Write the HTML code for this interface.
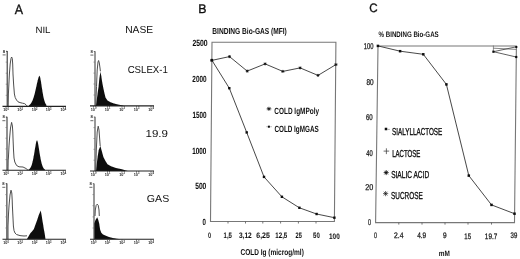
<!DOCTYPE html>
<html><head><meta charset="utf-8"><style>
html,body{margin:0;padding:0;background:#fff;width:520px;height:259px;overflow:hidden}
svg{display:block}
</style></head><body>
<svg width="520" height="259" viewBox="0 0 520 259">
<defs><filter id="soft" x="0" y="0" width="100%" height="100%"><feGaussianBlur stdDeviation="0.35"/></filter></defs>
<rect width="520" height="259" fill="#fff"/>
<g filter="url(#soft)">
<polygon points="28.8,106.4 28.8,105.4 29.1,105.2 29.3,105.1 29.6,104.9 29.9,104.6 30.1,104.4 30.4,104.1 30.7,103.8 30.9,103.4 31.2,103.0 31.5,102.6 31.7,102.1 32.0,101.6 32.3,101.1 32.5,100.5 32.8,99.8 33.1,99.1 33.3,98.3 33.6,97.5 33.9,96.6 34.1,95.7 34.4,94.7 34.7,93.7 35.0,92.6 35.2,91.5 35.5,90.3 35.8,89.1 36.0,87.9 36.3,86.7 36.6,85.5 36.8,84.2 37.1,83.0 37.4,81.9 37.6,80.7 37.9,79.7 38.2,78.7 38.4,77.8 38.7,77.1 39.0,76.4 39.2,76.0 39.5,75.8 39.7,76.0 39.8,76.4 40.0,76.9 40.2,77.6 40.4,78.4 40.5,79.3 40.7,80.2 40.9,81.2 41.1,82.3 41.2,83.4 41.4,84.5 41.6,85.7 41.7,86.8 41.9,88.0 42.1,89.1 42.3,90.2 42.4,91.3 42.6,92.3 42.8,93.4 43.0,94.3 43.1,95.3 43.3,96.2 43.5,97.0 43.6,97.8 43.8,98.5 44.0,99.2 44.2,99.9 44.3,100.5 44.5,101.1 44.7,101.6 44.8,102.1 45.0,102.5 45.2,102.9 45.4,103.3 45.5,103.6 45.7,104.0 45.9,104.2 46.1,104.5 46.2,104.7 46.4,104.9 46.4,106.4" fill="#111"/>
<polyline points="8.2,106.4 8.4,94.0 8.9,84.0 9.4,74.0 10.2,64.0 11.0,58.5 11.6,57.0 12.3,58.5 12.7,64.0 13.0,74.0 13.6,84.0 14.4,94.0 15.2,97.5 16.5,100.0 18.0,101.8 20.0,102.6 22.5,103.2 24.5,103.6 26.0,104.8 27.5,106.3" fill="none" stroke="#444" stroke-width="0.95" stroke-linejoin="round"/>
<line x1="7.2" y1="51.0" x2="7.2" y2="106.4" stroke="#222" stroke-width="1.0"/>
<line x1="6.0" y1="51.3" x2="7.2" y2="51.3" stroke="#222" stroke-width="0.8"/>
<line x1="2.5" y1="106.4" x2="66" y2="106.4" stroke="#222" stroke-width="1.1"/>
<line x1="5.7" y1="62.1" x2="7.2" y2="62.1" stroke="#777" stroke-width="0.7"/>
<line x1="5.7" y1="73.2" x2="7.2" y2="73.2" stroke="#777" stroke-width="0.7"/>
<line x1="5.7" y1="84.2" x2="7.2" y2="84.2" stroke="#777" stroke-width="0.7"/>
<line x1="5.7" y1="95.3" x2="7.2" y2="95.3" stroke="#777" stroke-width="0.7"/>
<line x1="6" y1="106.4" x2="6" y2="108.2" stroke="#444" stroke-width="0.7"/>
<line x1="20.2" y1="106.4" x2="20.2" y2="108.2" stroke="#444" stroke-width="0.7"/>
<line x1="34.7" y1="106.4" x2="34.7" y2="108.2" stroke="#444" stroke-width="0.7"/>
<line x1="48.7" y1="106.4" x2="48.7" y2="108.2" stroke="#444" stroke-width="0.7"/>
<line x1="63.3" y1="106.4" x2="63.3" y2="108.2" stroke="#444" stroke-width="0.7"/>
<text x="6" y="111.0" font-size="3.8" font-weight="bold" text-anchor="middle" fill="#222" font-family='"Liberation Sans", Arial, sans-serif'>10<tspan font-size="2.6" dy="-1.2">0</tspan></text>
<text x="20.2" y="111.0" font-size="3.8" font-weight="bold" text-anchor="middle" fill="#222" font-family='"Liberation Sans", Arial, sans-serif'>10<tspan font-size="2.6" dy="-1.2">1</tspan></text>
<text x="34.7" y="111.0" font-size="3.8" font-weight="bold" text-anchor="middle" fill="#222" font-family='"Liberation Sans", Arial, sans-serif'>10<tspan font-size="2.6" dy="-1.2">2</tspan></text>
<text x="48.7" y="111.0" font-size="3.8" font-weight="bold" text-anchor="middle" fill="#222" font-family='"Liberation Sans", Arial, sans-serif'>10<tspan font-size="2.6" dy="-1.2">3</tspan></text>
<text x="63.3" y="111.0" font-size="3.8" font-weight="bold" text-anchor="middle" fill="#222" font-family='"Liberation Sans", Arial, sans-serif'>10<tspan font-size="2.6" dy="-1.2">4</tspan></text>
<text x="3.8000000000000003" y="52.6" font-size="4.2" font-weight="bold" text-anchor="middle" fill="#222" font-family='"Liberation Sans", Arial, sans-serif'>8</text>
<line x1="2.6000000000000005" y1="54.9" x2="5.6" y2="54.9" stroke="#444" stroke-width="0.8"/>
<polygon points="95.9,105.9 96.5,101.0 97.1,97.2 97.8,92.0 98.6,86.4 99.4,78.0 100.4,71.7 101.3,76.0 102.0,81.0 103.0,86.4 104.4,92.9 105.5,97.5 107.5,100.6 110.5,102.3 114.0,103.5 117.0,104.3 120.3,105.0 122.5,105.5 124.0,105.9" fill="#111"/>
<polyline points="95.7,105.9 96.0,98.0 96.5,86.4 97.2,70.0 98.0,62.0 98.6,60.5 99.3,63.0 100.0,68.0 100.4,71.3" fill="none" stroke="#444" stroke-width="0.95" stroke-linejoin="round"/>
<line x1="95.0" y1="51.2" x2="95.0" y2="105.9" stroke="#555" stroke-width="1.2"/>
<line x1="93.8" y1="51.5" x2="95.0" y2="51.5" stroke="#555" stroke-width="0.8"/>
<line x1="90" y1="105.9" x2="154" y2="105.9" stroke="#222" stroke-width="1.1"/>
<line x1="93.5" y1="62.1" x2="95.0" y2="62.1" stroke="#777" stroke-width="0.7"/>
<line x1="93.5" y1="73.1" x2="95.0" y2="73.1" stroke="#777" stroke-width="0.7"/>
<line x1="93.5" y1="84.0" x2="95.0" y2="84.0" stroke="#777" stroke-width="0.7"/>
<line x1="93.5" y1="95.0" x2="95.0" y2="95.0" stroke="#777" stroke-width="0.7"/>
<line x1="93.5" y1="105.9" x2="93.5" y2="107.7" stroke="#444" stroke-width="0.7"/>
<line x1="107.5" y1="105.9" x2="107.5" y2="107.7" stroke="#444" stroke-width="0.7"/>
<line x1="122" y1="105.9" x2="122" y2="107.7" stroke="#444" stroke-width="0.7"/>
<line x1="136.5" y1="105.9" x2="136.5" y2="107.7" stroke="#444" stroke-width="0.7"/>
<line x1="151" y1="105.9" x2="151" y2="107.7" stroke="#444" stroke-width="0.7"/>
<text x="93.5" y="110.5" font-size="3.8" font-weight="bold" text-anchor="middle" fill="#222" font-family='"Liberation Sans", Arial, sans-serif'>10<tspan font-size="2.6" dy="-1.2">0</tspan></text>
<text x="107.5" y="110.5" font-size="3.8" font-weight="bold" text-anchor="middle" fill="#222" font-family='"Liberation Sans", Arial, sans-serif'>10<tspan font-size="2.6" dy="-1.2">1</tspan></text>
<text x="122" y="110.5" font-size="3.8" font-weight="bold" text-anchor="middle" fill="#222" font-family='"Liberation Sans", Arial, sans-serif'>10<tspan font-size="2.6" dy="-1.2">2</tspan></text>
<text x="136.5" y="110.5" font-size="3.8" font-weight="bold" text-anchor="middle" fill="#222" font-family='"Liberation Sans", Arial, sans-serif'>10<tspan font-size="2.6" dy="-1.2">3</tspan></text>
<text x="151" y="110.5" font-size="3.8" font-weight="bold" text-anchor="middle" fill="#222" font-family='"Liberation Sans", Arial, sans-serif'>10<tspan font-size="2.6" dy="-1.2">4</tspan></text>
<text x="91.6" y="52.800000000000004" font-size="4.2" font-weight="bold" text-anchor="middle" fill="#222" font-family='"Liberation Sans", Arial, sans-serif'>8</text>
<line x1="90.4" y1="55.1" x2="93.4" y2="55.1" stroke="#444" stroke-width="0.8"/>
<polygon points="28.3,170.3 28.3,169.7 28.5,169.6 28.7,169.5 29.0,169.4 29.2,169.2 29.4,169.1 29.6,168.9 29.8,168.6 30.0,168.3 30.3,168.0 30.5,167.7 30.7,167.3 30.9,166.9 31.1,166.4 31.3,165.9 31.6,165.3 31.8,164.7 32.0,164.0 32.2,163.2 32.4,162.4 32.6,161.5 32.9,160.6 33.1,159.5 33.3,158.5 33.5,157.3 33.7,156.1 34.0,154.9 34.2,153.6 34.4,152.3 34.6,151.0 34.8,149.7 35.0,148.4 35.3,147.1 35.5,145.8 35.7,144.6 35.9,143.5 36.1,142.5 36.3,141.6 36.6,140.9 36.8,140.4 37.0,140.2 37.2,140.4 37.4,140.9 37.6,141.5 37.8,142.3 38.0,143.3 38.2,144.3 38.4,145.4 38.6,146.6 38.8,147.9 39.0,149.1 39.2,150.4 39.4,151.7 39.6,152.9 39.8,154.2 40.0,155.4 40.2,156.5 40.4,157.6 40.6,158.7 40.8,159.7 41.0,160.7 41.2,161.6 41.4,162.4 41.6,163.2 41.8,164.0 42.0,164.6 42.2,165.2 42.4,165.8 42.6,166.3 42.8,166.8 43.0,167.2 43.2,167.6 43.4,167.9 43.6,168.2 43.8,168.5 44.0,168.7 44.2,168.9 44.4,169.1 44.6,169.3 44.8,169.4 45.0,169.6 45.0,170.3" fill="#111"/>
<polyline points="8.0,170.3 8.2,160.0 8.4,158.0 9.0,146.0 9.6,138.0 10.5,128.0 11.6,122.4 12.4,126.0 12.8,132.0 13.0,138.0 13.5,150.0 14.0,158.0 14.8,162.0 16.6,165.5 19.0,166.8 23.0,167.0 26.0,168.5 28.0,170.2" fill="none" stroke="#444" stroke-width="0.95" stroke-linejoin="round"/>
<line x1="7.0" y1="116.8" x2="7.0" y2="170.3" stroke="#222" stroke-width="1.0"/>
<line x1="5.8" y1="117.1" x2="7.0" y2="117.1" stroke="#222" stroke-width="0.8"/>
<line x1="2.5" y1="170.3" x2="66" y2="170.3" stroke="#222" stroke-width="1.1"/>
<line x1="5.5" y1="127.5" x2="7.0" y2="127.5" stroke="#777" stroke-width="0.7"/>
<line x1="5.5" y1="138.2" x2="7.0" y2="138.2" stroke="#777" stroke-width="0.7"/>
<line x1="5.5" y1="148.9" x2="7.0" y2="148.9" stroke="#777" stroke-width="0.7"/>
<line x1="5.5" y1="159.6" x2="7.0" y2="159.6" stroke="#777" stroke-width="0.7"/>
<line x1="6" y1="170.3" x2="6" y2="172.10000000000002" stroke="#444" stroke-width="0.7"/>
<line x1="20.2" y1="170.3" x2="20.2" y2="172.10000000000002" stroke="#444" stroke-width="0.7"/>
<line x1="34.7" y1="170.3" x2="34.7" y2="172.10000000000002" stroke="#444" stroke-width="0.7"/>
<line x1="48.7" y1="170.3" x2="48.7" y2="172.10000000000002" stroke="#444" stroke-width="0.7"/>
<line x1="63.3" y1="170.3" x2="63.3" y2="172.10000000000002" stroke="#444" stroke-width="0.7"/>
<text x="6" y="174.9" font-size="3.8" font-weight="bold" text-anchor="middle" fill="#222" font-family='"Liberation Sans", Arial, sans-serif'>10<tspan font-size="2.6" dy="-1.2">0</tspan></text>
<text x="20.2" y="174.9" font-size="3.8" font-weight="bold" text-anchor="middle" fill="#222" font-family='"Liberation Sans", Arial, sans-serif'>10<tspan font-size="2.6" dy="-1.2">1</tspan></text>
<text x="34.7" y="174.9" font-size="3.8" font-weight="bold" text-anchor="middle" fill="#222" font-family='"Liberation Sans", Arial, sans-serif'>10<tspan font-size="2.6" dy="-1.2">2</tspan></text>
<text x="48.7" y="174.9" font-size="3.8" font-weight="bold" text-anchor="middle" fill="#222" font-family='"Liberation Sans", Arial, sans-serif'>10<tspan font-size="2.6" dy="-1.2">3</tspan></text>
<text x="63.3" y="174.9" font-size="3.8" font-weight="bold" text-anchor="middle" fill="#222" font-family='"Liberation Sans", Arial, sans-serif'>10<tspan font-size="2.6" dy="-1.2">4</tspan></text>
<text x="3.6" y="118.39999999999999" font-size="4.2" font-weight="bold" text-anchor="middle" fill="#222" font-family='"Liberation Sans", Arial, sans-serif'>8</text>
<line x1="2.4000000000000004" y1="120.7" x2="5.4" y2="120.7" stroke="#444" stroke-width="0.8"/>
<polygon points="96.0,171.0 96.6,165.0 97.6,156.9 98.7,150.0 100.4,146.1 101.5,150.0 103.4,156.9 105.6,161.2 107.5,164.3 111.0,166.3 116.0,168.0 122.0,169.3 125.0,170.2 127.8,171.0" fill="#111"/>
<polyline points="95.7,171.0 96.3,150.0 97.2,132.0 98.2,126.2 99.0,130.0 99.6,138.0 100.2,146.1" fill="none" stroke="#444" stroke-width="0.95" stroke-linejoin="round"/>
<line x1="95.0" y1="116.8" x2="95.0" y2="171.0" stroke="#555" stroke-width="1.2"/>
<line x1="93.8" y1="117.1" x2="95.0" y2="117.1" stroke="#555" stroke-width="0.8"/>
<line x1="90" y1="171.0" x2="154" y2="171.0" stroke="#222" stroke-width="1.1"/>
<line x1="93.5" y1="127.6" x2="95.0" y2="127.6" stroke="#777" stroke-width="0.7"/>
<line x1="93.5" y1="138.5" x2="95.0" y2="138.5" stroke="#777" stroke-width="0.7"/>
<line x1="93.5" y1="149.3" x2="95.0" y2="149.3" stroke="#777" stroke-width="0.7"/>
<line x1="93.5" y1="160.2" x2="95.0" y2="160.2" stroke="#777" stroke-width="0.7"/>
<line x1="93.5" y1="171.0" x2="93.5" y2="172.8" stroke="#444" stroke-width="0.7"/>
<line x1="107.5" y1="171.0" x2="107.5" y2="172.8" stroke="#444" stroke-width="0.7"/>
<line x1="122" y1="171.0" x2="122" y2="172.8" stroke="#444" stroke-width="0.7"/>
<line x1="136.5" y1="171.0" x2="136.5" y2="172.8" stroke="#444" stroke-width="0.7"/>
<line x1="151" y1="171.0" x2="151" y2="172.8" stroke="#444" stroke-width="0.7"/>
<text x="93.5" y="175.6" font-size="3.8" font-weight="bold" text-anchor="middle" fill="#222" font-family='"Liberation Sans", Arial, sans-serif'>10<tspan font-size="2.6" dy="-1.2">0</tspan></text>
<text x="107.5" y="175.6" font-size="3.8" font-weight="bold" text-anchor="middle" fill="#222" font-family='"Liberation Sans", Arial, sans-serif'>10<tspan font-size="2.6" dy="-1.2">1</tspan></text>
<text x="122" y="175.6" font-size="3.8" font-weight="bold" text-anchor="middle" fill="#222" font-family='"Liberation Sans", Arial, sans-serif'>10<tspan font-size="2.6" dy="-1.2">2</tspan></text>
<text x="136.5" y="175.6" font-size="3.8" font-weight="bold" text-anchor="middle" fill="#222" font-family='"Liberation Sans", Arial, sans-serif'>10<tspan font-size="2.6" dy="-1.2">3</tspan></text>
<text x="151" y="175.6" font-size="3.8" font-weight="bold" text-anchor="middle" fill="#222" font-family='"Liberation Sans", Arial, sans-serif'>10<tspan font-size="2.6" dy="-1.2">4</tspan></text>
<text x="91.6" y="118.39999999999999" font-size="4.2" font-weight="bold" text-anchor="middle" fill="#222" font-family='"Liberation Sans", Arial, sans-serif'>8</text>
<line x1="90.4" y1="120.7" x2="93.4" y2="120.7" stroke="#444" stroke-width="0.8"/>
<polygon points="26.8,239.2 28.0,237.2 30.5,233.1 32.0,231.5 33.9,228.9 35.5,224.5 37.0,220.4 38.8,215.0 40.7,210.5 41.6,215.0 42.4,220.4 43.2,225.0 43.8,228.9 44.6,233.1 45.1,236.5 45.5,239.2" fill="#111"/>
<polyline points="8.0,239.2 8.0,226.0 8.5,214.0 9.0,206.0 10.0,195.0 11.0,190.2 11.8,193.0 12.2,200.0 12.4,206.0 12.9,216.0 13.4,226.0 14.0,230.5 15.0,233.0 16.5,234.5 20.0,235.6 24.0,236.0 27.0,235.8" fill="none" stroke="#444" stroke-width="0.95" stroke-linejoin="round"/>
<line x1="6.9" y1="183.4" x2="6.9" y2="239.2" stroke="#222" stroke-width="1.0"/>
<line x1="5.7" y1="183.70000000000002" x2="6.9" y2="183.70000000000002" stroke="#222" stroke-width="0.8"/>
<line x1="2.5" y1="239.2" x2="66" y2="239.2" stroke="#222" stroke-width="1.1"/>
<line x1="5.4" y1="194.6" x2="6.9" y2="194.6" stroke="#777" stroke-width="0.7"/>
<line x1="5.4" y1="205.7" x2="6.9" y2="205.7" stroke="#777" stroke-width="0.7"/>
<line x1="5.4" y1="216.9" x2="6.9" y2="216.9" stroke="#777" stroke-width="0.7"/>
<line x1="5.4" y1="228.0" x2="6.9" y2="228.0" stroke="#777" stroke-width="0.7"/>
<line x1="6" y1="239.2" x2="6" y2="241.0" stroke="#444" stroke-width="0.7"/>
<line x1="20.2" y1="239.2" x2="20.2" y2="241.0" stroke="#444" stroke-width="0.7"/>
<line x1="34.7" y1="239.2" x2="34.7" y2="241.0" stroke="#444" stroke-width="0.7"/>
<line x1="48.7" y1="239.2" x2="48.7" y2="241.0" stroke="#444" stroke-width="0.7"/>
<line x1="63.3" y1="239.2" x2="63.3" y2="241.0" stroke="#444" stroke-width="0.7"/>
<text x="6" y="243.79999999999998" font-size="3.8" font-weight="bold" text-anchor="middle" fill="#222" font-family='"Liberation Sans", Arial, sans-serif'>10<tspan font-size="2.6" dy="-1.2">0</tspan></text>
<text x="20.2" y="243.79999999999998" font-size="3.8" font-weight="bold" text-anchor="middle" fill="#222" font-family='"Liberation Sans", Arial, sans-serif'>10<tspan font-size="2.6" dy="-1.2">1</tspan></text>
<text x="34.7" y="243.79999999999998" font-size="3.8" font-weight="bold" text-anchor="middle" fill="#222" font-family='"Liberation Sans", Arial, sans-serif'>10<tspan font-size="2.6" dy="-1.2">2</tspan></text>
<text x="48.7" y="243.79999999999998" font-size="3.8" font-weight="bold" text-anchor="middle" fill="#222" font-family='"Liberation Sans", Arial, sans-serif'>10<tspan font-size="2.6" dy="-1.2">3</tspan></text>
<text x="63.3" y="243.79999999999998" font-size="3.8" font-weight="bold" text-anchor="middle" fill="#222" font-family='"Liberation Sans", Arial, sans-serif'>10<tspan font-size="2.6" dy="-1.2">4</tspan></text>
<text x="3.5000000000000004" y="185.0" font-size="4.2" font-weight="bold" text-anchor="middle" fill="#222" font-family='"Liberation Sans", Arial, sans-serif'>8</text>
<line x1="2.3000000000000007" y1="187.3" x2="5.300000000000001" y2="187.3" stroke="#444" stroke-width="0.8"/>
<polygon points="94.1,239.2 94.1,223.6 95.5,220.0 97.2,217.2 98.3,220.0 99.2,223.6 100.1,229.4 101.3,232.8 103.0,234.6 105.9,235.7 109.0,237.0 112.8,238.0 117.0,238.7 121.0,239.2" fill="#111"/>
<polyline points="95.0,216.0 95.3,210.0 96.2,205.2 97.2,204.2 98.2,205.2 99.0,210.0 99.3,216.0" fill="none" stroke="#444" stroke-width="0.95" stroke-linejoin="round"/>
<line x1="94.0" y1="183.4" x2="94.0" y2="239.2" stroke="#555" stroke-width="1.2"/>
<line x1="92.8" y1="183.70000000000002" x2="94.0" y2="183.70000000000002" stroke="#555" stroke-width="0.8"/>
<line x1="90" y1="239.2" x2="154" y2="239.2" stroke="#222" stroke-width="1.1"/>
<line x1="92.5" y1="194.6" x2="94.0" y2="194.6" stroke="#777" stroke-width="0.7"/>
<line x1="92.5" y1="205.7" x2="94.0" y2="205.7" stroke="#777" stroke-width="0.7"/>
<line x1="92.5" y1="216.9" x2="94.0" y2="216.9" stroke="#777" stroke-width="0.7"/>
<line x1="92.5" y1="228.0" x2="94.0" y2="228.0" stroke="#777" stroke-width="0.7"/>
<line x1="93.5" y1="239.2" x2="93.5" y2="241.0" stroke="#444" stroke-width="0.7"/>
<line x1="107.5" y1="239.2" x2="107.5" y2="241.0" stroke="#444" stroke-width="0.7"/>
<line x1="122" y1="239.2" x2="122" y2="241.0" stroke="#444" stroke-width="0.7"/>
<line x1="136.5" y1="239.2" x2="136.5" y2="241.0" stroke="#444" stroke-width="0.7"/>
<line x1="151" y1="239.2" x2="151" y2="241.0" stroke="#444" stroke-width="0.7"/>
<text x="93.5" y="243.79999999999998" font-size="3.8" font-weight="bold" text-anchor="middle" fill="#222" font-family='"Liberation Sans", Arial, sans-serif'>10<tspan font-size="2.6" dy="-1.2">0</tspan></text>
<text x="107.5" y="243.79999999999998" font-size="3.8" font-weight="bold" text-anchor="middle" fill="#222" font-family='"Liberation Sans", Arial, sans-serif'>10<tspan font-size="2.6" dy="-1.2">1</tspan></text>
<text x="122" y="243.79999999999998" font-size="3.8" font-weight="bold" text-anchor="middle" fill="#222" font-family='"Liberation Sans", Arial, sans-serif'>10<tspan font-size="2.6" dy="-1.2">2</tspan></text>
<text x="136.5" y="243.79999999999998" font-size="3.8" font-weight="bold" text-anchor="middle" fill="#222" font-family='"Liberation Sans", Arial, sans-serif'>10<tspan font-size="2.6" dy="-1.2">3</tspan></text>
<text x="151" y="243.79999999999998" font-size="3.8" font-weight="bold" text-anchor="middle" fill="#222" font-family='"Liberation Sans", Arial, sans-serif'>10<tspan font-size="2.6" dy="-1.2">4</tspan></text>
<text x="90.6" y="185.0" font-size="4.2" font-weight="bold" text-anchor="middle" fill="#222" font-family='"Liberation Sans", Arial, sans-serif'>8</text>
<line x1="89.4" y1="187.3" x2="92.4" y2="187.3" stroke="#444" stroke-width="0.8"/>
<polygon points="212.0,42.3 335.9,42.3 334.4,221.5 210.5,221.5" fill="none" stroke="#777" stroke-width="1.1"/>
<line x1="228.00" y1="221.50" x2="228.00" y2="223.50" stroke="#555" stroke-width="0.8"/>
<line x1="245.50" y1="221.50" x2="245.50" y2="223.50" stroke="#555" stroke-width="0.8"/>
<line x1="262.80" y1="221.50" x2="262.80" y2="223.50" stroke="#555" stroke-width="0.8"/>
<line x1="280.60" y1="221.50" x2="280.60" y2="223.50" stroke="#555" stroke-width="0.8"/>
<line x1="298.40" y1="221.50" x2="298.40" y2="223.50" stroke="#555" stroke-width="0.8"/>
<line x1="316.00" y1="221.50" x2="316.00" y2="223.50" stroke="#555" stroke-width="0.8"/>
<polyline points="211.8,60.4 229.5,56.6 247.2,71.1 265.1,63.9 282.8,71.4 300.1,67.9 318.0,75.4 335.9,64.6" fill="none" stroke="#333" stroke-width="0.9"/>
<polyline points="211.8,60.1 229.3,88.2 246.7,132.4 264.0,176.9 281.9,196.8 299.4,207.8 316.6,214.0 334.4,217.7" fill="none" stroke="#333" stroke-width="0.9"/>
<path d="M210.30,60.40H213.30M211.80,58.90V61.90M210.75,59.35L212.85,61.45M210.75,61.45L212.85,59.35" stroke="#111" stroke-width="0.8" fill="none"/>
<path d="M228.00,56.60H231.00M229.50,55.10V58.10M228.45,55.55L230.55,57.65M228.45,57.65L230.55,55.55" stroke="#111" stroke-width="0.8" fill="none"/>
<path d="M245.70,71.10H248.70M247.20,69.60V72.60M246.15,70.05L248.25,72.15M246.15,72.15L248.25,70.05" stroke="#111" stroke-width="0.8" fill="none"/>
<path d="M263.60,63.90H266.60M265.10,62.40V65.40M264.05,62.85L266.15,64.95M264.05,64.95L266.15,62.85" stroke="#111" stroke-width="0.8" fill="none"/>
<path d="M281.30,71.40H284.30M282.80,69.90V72.90M281.75,70.35L283.85,72.45M281.75,72.45L283.85,70.35" stroke="#111" stroke-width="0.8" fill="none"/>
<path d="M298.60,67.90H301.60M300.10,66.40V69.40M299.05,66.85L301.15,68.95M299.05,68.95L301.15,66.85" stroke="#111" stroke-width="0.8" fill="none"/>
<path d="M316.50,75.40H319.50M318.00,73.90V76.90M316.95,74.35L319.05,76.45M316.95,76.45L319.05,74.35" stroke="#111" stroke-width="0.8" fill="none"/>
<path d="M334.40,64.60H337.40M335.90,63.10V66.10M334.85,63.55L336.95,65.65M334.85,65.65L336.95,63.55" stroke="#111" stroke-width="0.8" fill="none"/>
<rect x="210.60" y="58.90" width="2.40" height="2.40" fill="#111"/>
<rect x="228.10" y="87.00" width="2.40" height="2.40" fill="#111"/>
<rect x="245.50" y="131.20" width="2.40" height="2.40" fill="#111"/>
<rect x="262.80" y="175.70" width="2.40" height="2.40" fill="#111"/>
<rect x="280.70" y="195.60" width="2.40" height="2.40" fill="#111"/>
<rect x="298.20" y="206.60" width="2.40" height="2.40" fill="#111"/>
<rect x="315.40" y="212.80" width="2.40" height="2.40" fill="#111"/>
<rect x="333.20" y="216.50" width="2.40" height="2.40" fill="#111"/>
<line x1="266.20" y1="108.90" x2="272.00" y2="108.90" stroke="#999" stroke-width="0.6"/>
<path d="M266.90,108.80H270.90M268.90,106.80V110.80M267.50,107.40L270.30,110.20M267.50,110.20L270.30,107.40" stroke="#111" stroke-width="0.8" fill="none"/>
<line x1="266.20" y1="126.70" x2="272.00" y2="126.70" stroke="#999" stroke-width="0.6"/>
<rect x="267.90" y="125.70" width="2.00" height="2.00" fill="#111"/>
<polygon points="378.0,46.0 516.4,46.0 514.5,222.6 375.6,222.6" fill="none" stroke="#777" stroke-width="1.1"/>
<line x1="398.80" y1="222.60" x2="398.80" y2="224.60" stroke="#555" stroke-width="0.8"/>
<line x1="422.00" y1="222.60" x2="422.00" y2="224.60" stroke="#555" stroke-width="0.8"/>
<line x1="445.00" y1="222.60" x2="445.00" y2="224.60" stroke="#555" stroke-width="0.8"/>
<line x1="468.00" y1="222.60" x2="468.00" y2="224.60" stroke="#555" stroke-width="0.8"/>
<line x1="491.50" y1="222.60" x2="491.50" y2="224.60" stroke="#555" stroke-width="0.8"/>
<polyline points="377.9,45.9 400.1,51.2 423.3,54.3 446.4,84.4 468.8,175.6 491.5,204.9 514.5,213.7" fill="none" stroke="#333" stroke-width="0.9"/>
<rect x="376.65" y="44.65" width="2.50" height="2.50" fill="#111"/>
<rect x="398.85" y="49.95" width="2.50" height="2.50" fill="#111"/>
<rect x="422.05" y="53.05" width="2.50" height="2.50" fill="#111"/>
<rect x="445.15" y="83.15" width="2.50" height="2.50" fill="#111"/>
<rect x="467.55" y="174.35" width="2.50" height="2.50" fill="#111"/>
<rect x="490.25" y="203.65" width="2.50" height="2.50" fill="#111"/>
<rect x="513.25" y="212.45" width="2.50" height="2.50" fill="#111"/>
<line x1="493.20" y1="48.20" x2="516.30" y2="49.40" stroke="#666" stroke-width="0.8"/>
<polyline points="516.3,46.8 493.4,51.7 516.2,57" fill="none" stroke="#444" stroke-width="0.85"/>
<line x1="493.40" y1="45.50" x2="493.40" y2="51.00" stroke="#666" stroke-width="0.7"/>
<rect x="492.30" y="50.60" width="2.20" height="2.20" fill="#111"/>
<rect x="515.30" y="46.00" width="2.00" height="2.00" fill="#111"/>
<rect x="515.10" y="55.90" width="2.20" height="2.20" fill="#111"/>
<rect x="384.75" y="127.75" width="2.50" height="2.50" fill="#111"/>
<line x1="387.40" y1="129.40" x2="389.80" y2="129.40" stroke="#888" stroke-width="0.7"/>
<path d="M383.6,151.1H389.2M386.4,148.3V154.1" stroke="#333" stroke-width="0.7" fill="none"/>
<path d="M383.70,172.60H388.70M386.20,170.10V175.10M384.45,170.85L387.95,174.35M384.45,174.35L387.95,170.85" stroke="#111" stroke-width="0.85" fill="none"/>
<rect x="385.40" y="171.80" width="1.60" height="1.60" fill="#111"/>
<path d="M383.00,193.60H388.20M385.60,191.00V196.20M383.78,191.78L387.42,195.42M383.78,195.42L387.42,191.78" stroke="#111" stroke-width="0.65" fill="none"/>
<text x="14.67" y="13.50" font-size="13.52" font-weight="normal" textLength="8.26" lengthAdjust="spacingAndGlyphs" text-rendering="geometricPrecision" font-family='"Liberation Sans", Arial, sans-serif' fill="#111" stroke="#111" stroke-width="0.35">A</text>
<text x="35.41" y="33.00" font-size="9.19" font-weight="normal" textLength="15.09" lengthAdjust="spacingAndGlyphs" text-rendering="geometricPrecision" font-family='"Liberation Sans", Arial, sans-serif' fill="#111">NIL</text>
<text x="125.17" y="33.40" font-size="10.20" font-weight="normal" textLength="27.97" lengthAdjust="spacingAndGlyphs" text-rendering="geometricPrecision" font-family='"Liberation Sans", Arial, sans-serif' fill="#111">NASE</text>
<text x="127.65" y="72.60" font-size="10.20" font-weight="normal" textLength="40.17" lengthAdjust="spacingAndGlyphs" text-rendering="geometricPrecision" font-family='"Liberation Sans", Arial, sans-serif' fill="#111">CSLEX-1</text>
<text x="145.55" y="137.30" font-size="10.20" font-weight="normal" textLength="22.42" lengthAdjust="spacingAndGlyphs" text-rendering="geometricPrecision" font-family='"Liberation Sans", Arial, sans-serif' fill="#111">19.9</text>
<text x="146.85" y="202.20" font-size="10.20" font-weight="normal" textLength="22.35" lengthAdjust="spacingAndGlyphs" text-rendering="geometricPrecision" font-family='"Liberation Sans", Arial, sans-serif' fill="#111">GAS</text>
<text x="198.27" y="12.50" font-size="12.40" font-weight="normal" textLength="8.25" lengthAdjust="spacingAndGlyphs" text-rendering="geometricPrecision" font-family='"Liberation Sans", Arial, sans-serif' fill="#111" stroke="#111" stroke-width="0.35">B</text>
<text x="212.31" y="33.50" font-size="8.67" font-weight="bold" textLength="74.52" lengthAdjust="spacingAndGlyphs" text-rendering="geometricPrecision" font-family='"Liberation Sans", Arial, sans-serif' fill="#111">BINDING Bio-GAS (MFI)</text>
<text x="192.39" y="46.30" font-size="8.98" font-weight="bold" textLength="15.14" lengthAdjust="spacingAndGlyphs" text-rendering="geometricPrecision" font-family='"Liberation Sans", Arial, sans-serif' fill="#111" stroke="#111" stroke-width="0.05">2500</text>
<text x="192.37" y="81.70" font-size="8.98" font-weight="bold" textLength="14.16" lengthAdjust="spacingAndGlyphs" text-rendering="geometricPrecision" font-family='"Liberation Sans", Arial, sans-serif' fill="#111" stroke="#111" stroke-width="0.05">2000</text>
<text x="192.54" y="117.70" font-size="8.98" font-weight="bold" textLength="14.04" lengthAdjust="spacingAndGlyphs" text-rendering="geometricPrecision" font-family='"Liberation Sans", Arial, sans-serif' fill="#111" stroke="#111" stroke-width="0.05">1500</text>
<text x="192.27" y="153.70" font-size="8.98" font-weight="bold" textLength="14.10" lengthAdjust="spacingAndGlyphs" text-rendering="geometricPrecision" font-family='"Liberation Sans", Arial, sans-serif' fill="#111" stroke="#111" stroke-width="0.05">1000</text>
<text x="195.20" y="189.10" font-size="8.98" font-weight="bold" textLength="11.10" lengthAdjust="spacingAndGlyphs" text-rendering="geometricPrecision" font-family='"Liberation Sans", Arial, sans-serif' fill="#111" stroke="#111" stroke-width="0.05">500</text>
<text x="202.40" y="225.00" font-size="8.98" font-weight="bold" textLength="3.40" lengthAdjust="spacingAndGlyphs" text-rendering="geometricPrecision" font-family='"Liberation Sans", Arial, sans-serif' fill="#111" stroke="#111" stroke-width="0.05">0</text>
<text x="208.10" y="238.30" font-size="7.90" font-weight="bold" textLength="3.00" lengthAdjust="spacingAndGlyphs" text-rendering="geometricPrecision" font-family='"Liberation Sans", Arial, sans-serif' fill="#111" stroke="#111" stroke-width="0.05">0</text>
<text x="223.60" y="238.30" font-size="7.90" font-weight="bold" textLength="8.32" lengthAdjust="spacingAndGlyphs" text-rendering="geometricPrecision" font-family='"Liberation Sans", Arial, sans-serif' fill="#111" stroke="#111" stroke-width="0.05">1,5</text>
<text x="238.98" y="238.30" font-size="7.90" font-weight="bold" textLength="12.67" lengthAdjust="spacingAndGlyphs" text-rendering="geometricPrecision" font-family='"Liberation Sans", Arial, sans-serif' fill="#111" stroke="#111" stroke-width="0.05">3,12</text>
<text x="256.31" y="238.30" font-size="7.90" font-weight="bold" textLength="13.54" lengthAdjust="spacingAndGlyphs" text-rendering="geometricPrecision" font-family='"Liberation Sans", Arial, sans-serif' fill="#111" stroke="#111" stroke-width="0.05">6,25</text>
<text x="275.32" y="238.30" font-size="7.90" font-weight="bold" textLength="11.96" lengthAdjust="spacingAndGlyphs" text-rendering="geometricPrecision" font-family='"Liberation Sans", Arial, sans-serif' fill="#111" stroke="#111" stroke-width="0.05">12,5</text>
<text x="295.58" y="238.30" font-size="7.90" font-weight="bold" textLength="6.22" lengthAdjust="spacingAndGlyphs" text-rendering="geometricPrecision" font-family='"Liberation Sans", Arial, sans-serif' fill="#111" stroke="#111" stroke-width="0.05">25</text>
<text x="313.10" y="238.30" font-size="7.90" font-weight="bold" textLength="6.70" lengthAdjust="spacingAndGlyphs" text-rendering="geometricPrecision" font-family='"Liberation Sans", Arial, sans-serif' fill="#111" stroke="#111" stroke-width="0.05">50</text>
<text x="329.05" y="238.50" font-size="7.90" font-weight="bold" textLength="10.67" lengthAdjust="spacingAndGlyphs" text-rendering="geometricPrecision" font-family='"Liberation Sans", Arial, sans-serif' fill="#111" stroke="#111" stroke-width="0.05">100</text>
<text x="240.47" y="254.70" font-size="8.50" font-weight="bold" textLength="63.34" lengthAdjust="spacingAndGlyphs" text-rendering="geometricPrecision" font-family='"Liberation Sans", Arial, sans-serif' fill="#111">COLD Ig (microg/ml)</text>
<text x="274.36" y="113.70" font-size="9.01" font-weight="bold" textLength="44.63" lengthAdjust="spacingAndGlyphs" text-rendering="geometricPrecision" font-family='"Liberation Sans", Arial, sans-serif' fill="#111">COLD IgMPoly</text>
<text x="274.39" y="131.60" font-size="9.01" font-weight="bold" textLength="44.34" lengthAdjust="spacingAndGlyphs" text-rendering="geometricPrecision" font-family='"Liberation Sans", Arial, sans-serif' fill="#111">COLD IgMGAS</text>
<text x="369.16" y="12.00" font-size="12.18" font-weight="normal" textLength="8.36" lengthAdjust="spacingAndGlyphs" text-rendering="geometricPrecision" font-family='"Liberation Sans", Arial, sans-serif' fill="#111" stroke="#111" stroke-width="0.35">C</text>
<text x="378.61" y="37.10" font-size="7.95" font-weight="bold" textLength="60.07" lengthAdjust="spacingAndGlyphs" text-rendering="geometricPrecision" font-family='"Liberation Sans", Arial, sans-serif' fill="#111">% BINDING Bio-GAS</text>
<text x="363.86" y="49.40" font-size="8.38" font-weight="normal" textLength="9.68" lengthAdjust="spacingAndGlyphs" text-rendering="geometricPrecision" font-family='"Liberation Sans", Arial, sans-serif' fill="#111" stroke="#111" stroke-width="0.25">100</text>
<text x="366.47" y="85.10" font-size="8.38" font-weight="normal" textLength="7.14" lengthAdjust="spacingAndGlyphs" text-rendering="geometricPrecision" font-family='"Liberation Sans", Arial, sans-serif' fill="#111" stroke="#111" stroke-width="0.25">80</text>
<text x="365.99" y="120.30" font-size="8.38" font-weight="normal" textLength="6.75" lengthAdjust="spacingAndGlyphs" text-rendering="geometricPrecision" font-family='"Liberation Sans", Arial, sans-serif' fill="#111" stroke="#111" stroke-width="0.25">60</text>
<text x="366.23" y="155.50" font-size="8.38" font-weight="normal" textLength="6.47" lengthAdjust="spacingAndGlyphs" text-rendering="geometricPrecision" font-family='"Liberation Sans", Arial, sans-serif' fill="#111" stroke="#111" stroke-width="0.25">40</text>
<text x="365.13" y="190.30" font-size="8.38" font-weight="normal" textLength="8.07" lengthAdjust="spacingAndGlyphs" text-rendering="geometricPrecision" font-family='"Liberation Sans", Arial, sans-serif' fill="#111" stroke="#111" stroke-width="0.25">20</text>
<text x="368.10" y="225.30" font-size="8.38" font-weight="normal" textLength="3.00" lengthAdjust="spacingAndGlyphs" text-rendering="geometricPrecision" font-family='"Liberation Sans", Arial, sans-serif' fill="#111" stroke="#111" stroke-width="0.25">0</text>
<text x="373.90" y="238.30" font-size="7.96" font-weight="normal" textLength="3.00" lengthAdjust="spacingAndGlyphs" text-rendering="geometricPrecision" font-family='"Liberation Sans", Arial, sans-serif' fill="#111" stroke="#111" stroke-width="0.25">0</text>
<text x="394.12" y="238.40" font-size="7.96" font-weight="normal" textLength="9.32" lengthAdjust="spacingAndGlyphs" text-rendering="geometricPrecision" font-family='"Liberation Sans", Arial, sans-serif' fill="#111" stroke="#111" stroke-width="0.25">2.4</text>
<text x="417.16" y="238.40" font-size="7.96" font-weight="normal" textLength="9.01" lengthAdjust="spacingAndGlyphs" text-rendering="geometricPrecision" font-family='"Liberation Sans", Arial, sans-serif' fill="#111" stroke="#111" stroke-width="0.25">4.9</text>
<text x="442.95" y="238.40" font-size="7.96" font-weight="normal" textLength="3.62" lengthAdjust="spacingAndGlyphs" text-rendering="geometricPrecision" font-family='"Liberation Sans", Arial, sans-serif' fill="#111" stroke="#111" stroke-width="0.25">9</text>
<text x="464.34" y="238.75" font-size="7.96" font-weight="normal" textLength="6.75" lengthAdjust="spacingAndGlyphs" text-rendering="geometricPrecision" font-family='"Liberation Sans", Arial, sans-serif' fill="#111" stroke="#111" stroke-width="0.25">15</text>
<text x="484.87" y="238.75" font-size="7.96" font-weight="normal" textLength="12.46" lengthAdjust="spacingAndGlyphs" text-rendering="geometricPrecision" font-family='"Liberation Sans", Arial, sans-serif' fill="#111" stroke="#111" stroke-width="0.25">19.7</text>
<text x="510.61" y="238.40" font-size="7.96" font-weight="normal" textLength="6.71" lengthAdjust="spacingAndGlyphs" text-rendering="geometricPrecision" font-family='"Liberation Sans", Arial, sans-serif' fill="#111" stroke="#111" stroke-width="0.25">39</text>
<text x="438.79" y="255.90" font-size="7.81" font-weight="bold" textLength="11.13" lengthAdjust="spacingAndGlyphs" text-rendering="geometricPrecision" font-family='"Liberation Sans", Arial, sans-serif' fill="#111">mM</text>
<text x="391.96" y="134.90" font-size="10.10" font-weight="normal" textLength="50.35" lengthAdjust="spacingAndGlyphs" text-rendering="geometricPrecision" font-family='"Liberation Sans", Arial, sans-serif' fill="#111" stroke="#111" stroke-width="0.35">SIALYLLACTOSE</text>
<text x="392.17" y="156.50" font-size="10.10" font-weight="normal" textLength="28.18" lengthAdjust="spacingAndGlyphs" text-rendering="geometricPrecision" font-family='"Liberation Sans", Arial, sans-serif' fill="#111" stroke="#111" stroke-width="0.35">LACTOSE</text>
<text x="391.14" y="178.20" font-size="10.10" font-weight="normal" textLength="38.01" lengthAdjust="spacingAndGlyphs" text-rendering="geometricPrecision" font-family='"Liberation Sans", Arial, sans-serif' fill="#111" stroke="#111" stroke-width="0.35">SIALIC ACID</text>
<text x="391.05" y="198.70" font-size="10.10" font-weight="normal" textLength="31.66" lengthAdjust="spacingAndGlyphs" text-rendering="geometricPrecision" font-family='"Liberation Sans", Arial, sans-serif' fill="#111" stroke="#111" stroke-width="0.35">SUCROSE</text>
</g>
</svg>
</body></html>
